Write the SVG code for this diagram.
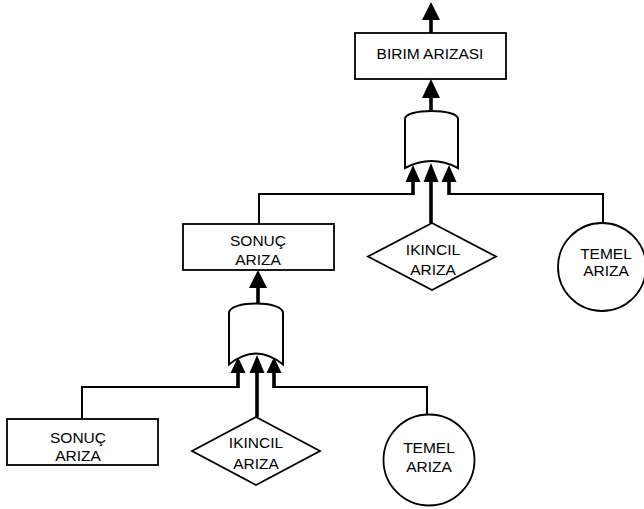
<svg xmlns="http://www.w3.org/2000/svg" width="644" height="509" viewBox="0 0 644 509">
<style>
.shape{fill:#fff;stroke:#000;stroke-width:1.8}
.gate{fill:#fff;stroke:#000;stroke-width:2}
.txt{font-family:"Liberation Sans",Arial,sans-serif;font-size:15.5px;fill:#000;text-anchor:middle}
.line{fill:none;stroke:#000;stroke-width:2}
.shaft{fill:none;stroke:#000;stroke-width:3.6}
.head{fill:#000;stroke:none}
</style>
<rect width="644" height="509" fill="#fff"/>
<g id="connectors">
  <!-- top output -->
  <line class="shaft" x1="431" y1="19" x2="431" y2="33"/>
  <polygon class="head" points="431,2 422,20 440,20"/>
  <!-- upper gate to BIRIM ARIZASI -->
  <line class="shaft" x1="431" y1="97" x2="431" y2="111"/>
  <polygon class="head" points="431,79 422,98 440,98"/>
  <!-- upper gate inputs -->
  <polyline class="line" points="259,224 259,194 413,194"/>
  <line class="shaft" x1="413" y1="181" x2="413" y2="195"/>
  <polygon class="head" points="413,165 405.5,182 420.5,182"/>
  <line class="shaft" x1="431" y1="181" x2="431" y2="223"/>
  <polygon class="head" points="431,163 423.5,182 438.5,182"/>
  <polyline class="line" points="449,194 603,194 603,223"/>
  <line class="shaft" x1="449" y1="181" x2="449" y2="195"/>
  <polygon class="head" points="449,165 441.5,182 456.5,182"/>
  <!-- lower gate to SONUC -->
  <line class="shaft" x1="258" y1="287" x2="258" y2="303"/>
  <polygon class="head" points="258,270 249,288 267,288"/>
  <!-- lower gate inputs -->
  <polyline class="line" points="82,419 82,387 238,387"/>
  <line class="shaft" x1="238" y1="372" x2="238" y2="388"/>
  <polygon class="head" points="238,357 230.5,373 245.5,373"/>
  <line class="shaft" x1="257" y1="372" x2="257" y2="417"/>
  <polygon class="head" points="257,355 249.5,373 264.5,373"/>
  <polyline class="line" points="274,387 427,387 427,415"/>
  <line class="shaft" x1="274" y1="372" x2="274" y2="388"/>
  <polygon class="head" points="274,357 266.5,373 281.5,373"/>
</g>
<g id="birim-arizasi">
  <rect class="shape" x="355" y="33" width="151" height="46"/>
  <text class="txt" x="430" y="59">BIRIM ARIZASI</text>
</g>
<g id="or-gate-upper">
  <path class="gate" d="M405,168 L405,119 C405,108.3 458,108.3 458,119 L458,168 Q431.5,154 405,168 Z"/>
</g>
<g id="sonuc-ariza-upper">
  <rect class="shape" x="183" y="224" width="151" height="46"/>
  <text class="txt" x="258" y="245.5">SONUÇ</text>
  <text class="txt" x="258" y="265">ARIZA</text>
</g>
<g id="ikincil-ariza-upper">
  <polygon class="shape" points="432,223 496,256.5 432,290 368,256.5"/>
  <text class="txt" x="433" y="255">IKINCIL</text>
  <text class="txt" x="433" y="275">ARIZA</text>
</g>
<g id="temel-ariza-upper">
  <circle class="shape" cx="602" cy="267" r="44"/>
  <text class="txt" x="606" y="258.5">TEMEL</text>
  <text class="txt" x="606" y="276">ARIZA</text>
</g>
<g id="or-gate-lower">
  <path class="gate" d="M229,364.5 L229,313 C229,300.3 283,300.3 283,313 L283,364.5 Q256,342.5 229,364.5 Z"/>
</g>
<g id="sonuc-ariza-lower">
  <rect class="shape" x="7" y="419" width="151" height="46"/>
  <text class="txt" x="78" y="443">SONUÇ</text>
  <text class="txt" x="78" y="461">ARIZA</text>
</g>
<g id="ikincil-ariza-lower">
  <polygon class="shape" points="256,417 320,451 256,485 192,451"/>
  <text class="txt" x="256" y="447.7">IKINCIL</text>
  <text class="txt" x="256" y="469.3">ARIZA</text>
</g>
<g id="temel-ariza-lower">
  <circle class="shape" cx="429" cy="460" r="45.5"/>
  <text class="txt" x="429" y="453.3">TEMEL</text>
  <text class="txt" x="429" y="471.7">ARIZA</text>
</g>
</svg>
